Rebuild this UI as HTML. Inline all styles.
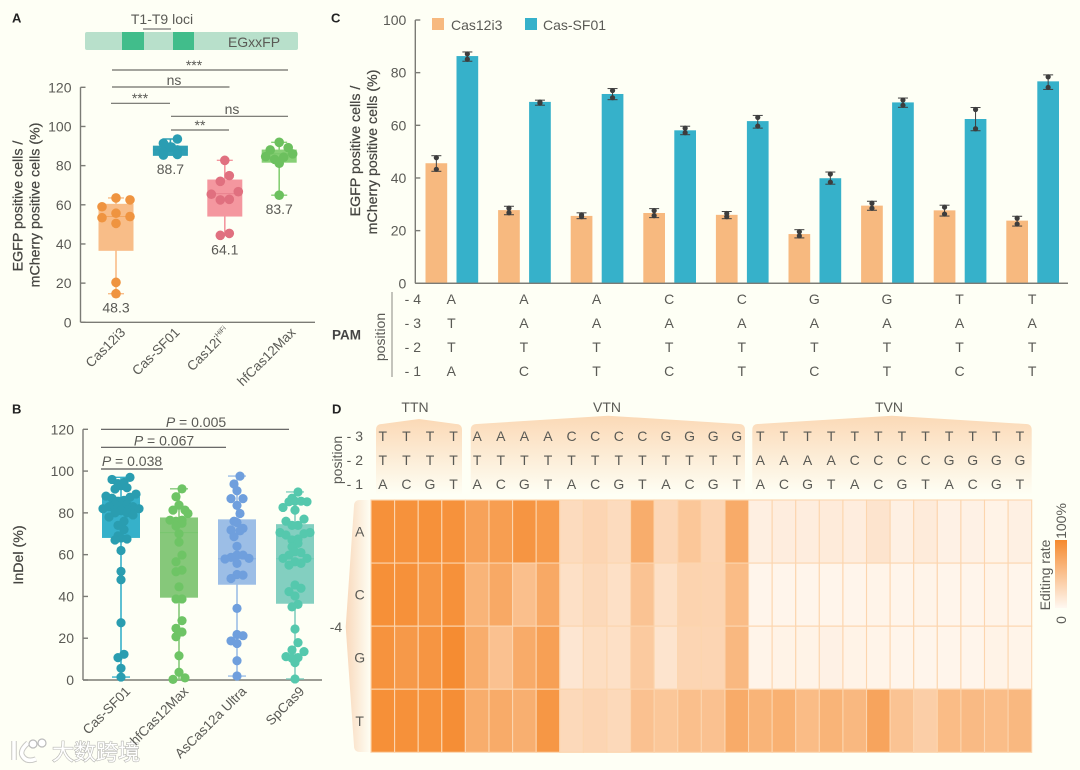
<!DOCTYPE html>
<html lang="en">
<head>
<meta charset="utf-8">
<title>Editing efficiency panels</title>
<style>
html,body{margin:0;padding:0;background:#fefff5;}
svg{display:block;}
text{font-family:"Liberation Sans","Noto Sans CJK SC",sans-serif;fill:#5a5a55;font-size:14px;dominant-baseline:central;}
.title{fill:#454541;stroke:#454541;stroke-width:.25;font-size:14.2px;}
.panel{fill:#222;font-weight:bold;font-size:13px;}
.ax{stroke:#7b7b75;stroke-width:1.4;fill:none;}
.sig{stroke:#6e6e69;stroke-width:1.2;}
</style>
</head>
<body>
<svg id="fig" xmlns="http://www.w3.org/2000/svg" width="1080" height="770" viewBox="0 0 1080 770">
<defs>
<linearGradient id="hdrGrad" x1="0" y1="0" x2="0" y2="1"><stop offset="0" stop-color="#fbd9b6"/><stop offset="1" stop-color="#fefff5"/></linearGradient>
<linearGradient id="sideGrad" x1="0" y1="0" x2="1" y2="0"><stop offset="0" stop-color="#f9d9bc"/><stop offset="1" stop-color="#fefff5"/></linearGradient>
<linearGradient id="barGrad" x1="0" y1="0" x2="0" y2="1"><stop offset="0" stop-color="#f58a2e"/><stop offset="1" stop-color="#fff8f1"/></linearGradient>
</defs>
<rect width="1080" height="770" fill="#fefff5"/>

<text class="panel" x="12" y="18">A</text>
<text class="panel" x="12" y="409">B</text>
<text class="panel" x="331" y="18">C</text>
<text class="panel" x="332" y="409">D</text>

<g>
  <rect x="85" y="32" width="213" height="18" rx="2" fill="#b8e0cb"/>
  <rect x="122" y="32" width="22" height="18" fill="#41bd8b"/>
  <rect x="173" y="32" width="21" height="18" fill="#41bd8b"/>
  <line x1="143" y1="29" x2="171" y2="29" stroke="#555" stroke-width="1"/>
  <text x="162" y="19" text-anchor="middle">T1-T9 loci</text>
  <text x="254" y="42" text-anchor="middle">EGxxFP</text>
</g>

<g>
  <line class="sig" x1="112" y1="70" x2="288" y2="70"/>
  <text x="194" y="65" text-anchor="middle">***</text>
  <line class="sig" x1="112" y1="87" x2="229.5" y2="87"/>
  <text x="174" y="80" text-anchor="middle">ns</text>
  <line class="sig" x1="111" y1="103.3" x2="170" y2="103.3"/>
  <text x="140" y="98" text-anchor="middle">***</text>
  <line class="sig" x1="171" y1="116.3" x2="288" y2="116.3"/>
  <text x="232" y="109" text-anchor="middle">ns</text>
  <line class="sig" x1="171" y1="130" x2="229" y2="130"/>
  <text x="200" y="125" text-anchor="middle">**</text>
</g>
<text class="title" transform="translate(18.5,206) rotate(-90)" text-anchor="middle">EGFP positive cells /</text>
<text class="title" transform="translate(35.5,205) rotate(-90)" text-anchor="middle">mCherry positive cells (%)</text>

<g>
  <line class="sig" x1="101" y1="429.3" x2="289" y2="429.3" style="stroke:#555"/>
  <text x="196" y="422" text-anchor="middle"><tspan font-style="italic">P</tspan> = 0.005</text>
  <line class="sig" x1="101" y1="447.3" x2="226" y2="447.3" style="stroke:#555"/>
  <text x="164" y="440.5" text-anchor="middle"><tspan font-style="italic">P</tspan> = 0.067</text>
  <line class="sig" x1="101" y1="469" x2="163" y2="469" style="stroke:#555"/>
  <text x="132" y="461" text-anchor="middle"><tspan font-style="italic">P</tspan> = 0.038</text>
</g>
<text class="title" transform="translate(19,555) rotate(-90)" text-anchor="middle">InDel (%)</text>

<text class="title" transform="translate(356,151) rotate(-90)" text-anchor="middle">EGFP positive cells /</text>
<text class="title" transform="translate(373,152) rotate(-90)" text-anchor="middle">mCherry positive cells (%)</text>

<g>
  <rect x="432" y="18" width="12" height="12" fill="#f7b97f"/>
  <text x="451" y="25">Cas12i3</text>
  <rect x="525" y="18" width="12" height="12" fill="#36b1ca"/>
  <text x="543" y="25">Cas-SF01</text>
</g>

<g>
  <line x1="392" y1="292" x2="392" y2="377" stroke="#8a8a84" stroke-width="1"/>
  <text x="332" y="335" style="font-weight:bold;font-size:13.5px;fill:#444">PAM</text>
  <text transform="translate(380,337) rotate(-90)" text-anchor="middle">position</text>
</g>

<g>
  <path d="M376,495 L376,430 Q376,424 382,424 L419,419 L456,424 Q462,424 462,430 L462,495 Z" fill="url(#hdrGrad)"/>
  <path d="M470.7,495 L470.7,430 Q470.7,424 477,424 L608,415.7 L739,424 Q745,424 745,430 L745,495 Z" fill="url(#hdrGrad)"/>
  <path d="M752.3,495 L752.3,430 Q752.3,424 758,424 L892,415.7 L1026,424 Q1031.7,424 1031.7,430 L1031.7,495 Z" fill="url(#hdrGrad)"/>
  <path d="M371,500 L360,500 Q354,500 354,506 L345.7,627 L354,746 Q354,752 360,752 L371,752 Z" fill="url(#sideGrad)"/>
  <text x="415" y="407" text-anchor="middle">TTN</text>
  <text x="607" y="407" text-anchor="middle">VTN</text>
  <text x="889" y="407" text-anchor="middle">TVN</text>
  <text transform="translate(337,460) rotate(-90)" text-anchor="middle">position</text>
  <text x="336" y="627" text-anchor="middle">-4</text>
</g>

<g>
  <rect x="1055" y="540" width="12" height="68" fill="url(#barGrad)"/>
  <text transform="translate(1061,521) rotate(-90)" text-anchor="middle">100%</text>
  <text transform="translate(1061,620) rotate(-90)" text-anchor="middle">0</text>
  <text transform="translate(1045,575) rotate(-90)" text-anchor="middle">Editing rate</text>
</g>

<g>
  <path d="M14,741 L14,760 M28,743 Q20,750 22,755 Q26,763 36,759" fill="none" stroke="#c8c8c4" stroke-width="5.5"/>
  <path d="M14,741 L14,760 M28,743 Q20,750 22,755 Q26,763 36,759" fill="none" stroke="#fff" stroke-width="3.5"/>
  <circle cx="33" cy="744" r="4" fill="#fff" stroke="#bbb" stroke-width="1.2"/>
  <circle cx="42" cy="743" r="4" fill="#fff" stroke="#bbb" stroke-width="1.2"/>
  <text x="52" y="751" style="font-size:22px;font-family:'Noto Sans CJK SC',sans-serif;fill:#fff;stroke:#b8b8b4;stroke-width:1.2;paint-order:stroke">大数跨境</text>
</g>

<g id="plots"></g>
</svg>

<script>
// ---------- Panel A data ----------
const aCategories = ['Cas12i3', 'Cas-SF01', 'Cas12i', 'hfCas12Max'];
const aTicks = [0, 20, 40, 60, 80, 100, 120];
const aMeanLabels = ['48.3', '88.7', '64.1', '83.7'];
const aQ1 = [36.5, 85, 54, 81.5];
const aMedian = [54, 88, 65.7, 86];
const aQ3 = [60.5, 90.2, 72.9, 88.2];
const aCas12i3 = [63.5, 62.5, 59, 55.7, 54, 53.4, 50.5, 20.4, 14.6];
const aCasSF01 = [93.6, 91.4, 89.5, 89.5, 88, 87, 85.7, 85.4];
const aCas12iHiFi = [82.7, 74.9, 72, 66.7, 65.4, 62.8, 62.5, 45.4, 44.4];
const aHfCas12Max = [91.9, 89.2, 88, 86, 84.6, 84.3, 83.2, 81.2, 64.9];

// ---------- Panel B data ----------
const bCategories = ['Cas-SF01', 'hfCas12Max', 'AsCas12a Ultra', 'SpCas9'];
const bTicks = [0, 20, 40, 60, 80, 100, 120];
const bQ1 = [68, 39.4, 45.6, 36.5];
const bMedian = [81.3, 70.5, 58, 58];
const bQ3 = [87.7, 77.8, 76.9, 74.6];
const bCasSF01 = [97, 96, 94.6, 94, 93, 92, 91.4, 89, 88, 87.5, 87, 86, 85.5, 85, 84, 84, 83, 83, 82, 82, 81.5, 81.5, 81, 80, 80, 79, 78, 76, 74, 72, 69, 68, 67.5, 67, 62, 52, 48, 27.4, 12.3, 10.7, 5.6, 1.4];
const bHfCas12Max = [91.5, 87.7, 83.7, 81.3, 81.3, 79.7, 76.5, 76.5, 76, 75, 73.7, 70, 66, 59.8, 56.6, 52.6, 51.8, 44.6, 38.8, 38.8, 28.4, 24.7, 23, 20.7, 11.6, 3.7, 1, 0.3];
const bAsCas12aUltra = [97.6, 93.8, 90.6, 86.8, 86.8, 83.6, 79.7, 76, 75.4, 72.6, 71.8, 71.4, 68.6, 64, 59.8, 59.8, 58.7, 58.2, 57.9, 55.8, 50.5, 50.2, 48.6, 34.3, 21.8, 21.2, 18.7, 17.5, 9.2, 1.9];
const bSpCas9 = [90, 87, 85.6, 85.6, 85.3, 85.3, 82.6, 81.3, 77, 76, 74, 74, 70.6, 70.6, 70, 69.4, 67.5, 67, 65.4, 63.8, 61.4, 61, 59.8, 58.2, 58.2, 56.6, 55.8, 55, 45.5, 43.9, 42.3, 40.2, 36.2, 35, 24.4, 17.9, 14.4, 13.6, 11.2, 10.7, 10.4, 8.3, 0.5];

// ---------- Panel C data ----------
const cTicks = [0, 20, 40, 60, 80, 100];
const cCas12i3 = [45.6, 27.8, 25.6, 26.7, 26, 18.7, 29.5, 27.7, 23.8];
const cCas12i3Hi = [47.7, 28.5, 26, 27.6, 26.5, 19.6, 30.4, 28.9, 24.7];
const cCas12i3Lo = [43.3, 26.8, 25.3, 25.7, 25.3, 18, 28.5, 26.3, 22.5];
const cCasSF01 = [86.3, 68.9, 71.9, 58.1, 61.6, 39.9, 68.7, 62.4, 76.7];
const cCasSF01Hi = [87.1, 68.8, 73.2, 58.9, 63, 41.5, 69.6, 66, 78.4];
const cCasSF01Lo = [85.1, 68.4, 70.5, 57.2, 59.7, 38.4, 67.6, 58.7, 74.4];
const pamRowLabels = ['- 4', '- 3', '- 2', '- 1'];
const pamRows = [
  ['A', 'A', 'A', 'C', 'C', 'G', 'G', 'T', 'T'],
  ['T', 'A', 'A', 'A', 'A', 'A', 'A', 'A', 'A'],
  ['T', 'T', 'T', 'T', 'T', 'T', 'T', 'T', 'T'],
  ['A', 'C', 'T', 'C', 'T', 'C', 'T', 'C', 'T']
];

// ---------- Panel D data ----------
const dRowLabels = ['A', 'C', 'G', 'T'];
const dHeadLabels = ['- 3', '- 2', '- 1'];
const dHead3 = 'TTTTAAAACCCCGGGGTTTTTTTTTTTT'.split('');
const dHead2 = 'TTTTTTTTTTTTTTTTAAAACCCCGGGG'.split('');
const dHead1 = 'ACGTACGTACGTACGTACGTACGTACGT'.split('');
const dRowA = [94, 93, 94, 93, 78, 82, 90, 85, 26, 32, 26, 68, 30, 45, 32, 70, 8, 10, 10, 12, 10, 18, 7, 12, 6, 6, 5, 7];
const dRowC = [95, 94, 88, 94, 62, 72, 52, 72, 22, 28, 22, 48, 22, 34, 33, 55, 3, 3, 3, 3, 3, 4, 3, 4, 3, 3, 4, 3];
const dRowG = [92, 86, 90, 98, 68, 50, 70, 80, 16, 24, 22, 42, 18, 32, 32, 58, 4, 5, 5, 6, 5, 4, 3, 3, 3, 3, 5, 4];
const dRowT = [95, 94, 93, 96, 68, 70, 66, 88, 28, 32, 28, 50, 45, 52, 50, 70, 62, 65, 55, 62, 58, 76, 48, 38, 55, 56, 54, 58];

const NS = 'http://www.w3.org/2000/svg';
const root = document.getElementById('plots');
function mk(tag, attrs, parent, txt) {
  const n = document.createElementNS(NS, tag);
  for (const k in attrs) n.setAttribute(k, attrs[k]);
  if (txt !== undefined) n.textContent = txt;
  (parent || root).appendChild(n);
  return n;
}
function linear(d0, d1, r0, r1) { return v => r0 + (v - d0) * (r1 - r0) / (d1 - d0); }

// Banded beeswarm: values close in y form a band, laid out symmetrically around the category centre.
function swarm(values, yS, step, bandH, maxOff) {
  const off = new Array(values.length).fill(0);
  const order = values.map((v, i) => i).sort((a, b) => values[b] - values[a]);
  let band = [];
  function flush() {
    const n = band.length;
    const slots = [];
    if (n % 2) {
      slots.push(0);
      for (let k = 1; k <= (n - 1) / 2; k++) slots.push(k * step, -k * step);
    } else {
      for (let k = n / 2; k >= 1; k--) slots.push((k - 0.5) * step, -(k - 0.5) * step);
    }
    band.forEach((idx, j) => {
      let o = slots[j];
      if (Math.abs(o) > maxOff) o = Math.sign(o) * (Math.abs(o) % maxOff);
      off[idx] = o;
    });
    band = [];
  }
  order.forEach(idx => {
    if (band.length && Math.abs(yS(values[idx]) - yS(values[band[0]])) > bandH) flush();
    band.push(idx);
  });
  flush();
  return off;
}

function drawAxis(o) {
  const g = mk('g', {});
  
  
  const yl = mk('line', { x1: o.x0, y1: o.yS(o.ticks[o.ticks.length - 1]), x2: o.x0, y2: o.yS(0), class: 'ax' }, g);
  
  
  const xl = mk('line', { x1: o.x0, y1: o.yS(0), x2: o.x1, y2: o.yS(0), class: 'ax' }, g);
  
  
  o.ticks.forEach(t => {
    const tk = mk('line', { x1: o.x0, y1: o.yS(t), x2: o.x0 + 5, y2: o.yS(t), class: 'ax' }, g);
    
    
    const lb = mk('text', { x: o.x0 - 9, y: o.yS(t), 'text-anchor': 'end' }, g, t);
    
    
  });
}

function drawBoxGroup(o) {
  const g = mk('g', {});
  
  
  const lo = Math.min.apply(null, o.values), hi = Math.max.apply(null, o.values);
  const w = mk('line', { x1: o.cx, y1: o.yS(hi), x2: o.cx, y2: o.yS(lo), stroke: o.box, 'stroke-width': 1.6 }, g);
  
  
  [lo, hi].forEach(v => {
    const c = mk('line', { x1: o.cx - o.cap, y1: o.yS(v), x2: o.cx + o.cap, y2: o.yS(v), stroke: o.box, 'stroke-width': 1.4 }, g);
    
    
  });
  const r = mk('rect', { x: o.cx - o.hw, y: o.yS(o.q3), width: 2 * o.hw, height: o.yS(o.q1) - o.yS(o.q3), fill: o.box }, g);
  
  
  const m = mk('line', { x1: o.cx - o.hw, y1: o.yS(o.med), x2: o.cx + o.hw, y2: o.yS(o.med), stroke: o.dot, 'stroke-width': 0.9, opacity: .6 }, g);
  
  
  const offs = swarm(o.values, o.yS, o.step, o.bandH, o.maxOff);
  o.values.forEach((v, i) => {
    const c = mk('circle', { cx: o.cx + offs[i], cy: o.yS(v), r: o.r, fill: o.dot }, g);
    
    
  });
  return lo;
}

function tickLabel(txt, x, y, sup) {
  const t = mk('text', { transform: 'translate(' + x + ',' + y + ') rotate(-45)', 'text-anchor': 'end', style: 'font-size:13.5px' }, root, txt);
  
  
  if (sup) {
    const s = mk('tspan', { dy: -4, style: 'font-size:7px' }, t, sup);
    
    
  }
}

// Panel A
const yA = linear(0, 120, 322.3, 87.3);
const xA = i => 116 + i * 54.4;
drawAxis({ name: 'axes-a', x0: 80.5, x1: 315, yS: yA, ticks: aTicks });
const aSeries = [aCas12i3, aCasSF01, aCas12iHiFi, aHfCas12Max];
const aBox = ['#f8bd88', '#2f9fb4', '#f4979f', '#87cf75'];
const aDot = ['#ef9440', '#2a9db2', '#e0707f', '#6cc05e'];
const aStep = [14, 14, 9, 9];
const aBandH = [9, 6, 9, 9];
aSeries.forEach((vals, i) => {
  const lo = drawBoxGroup({ key: 'a-' + i, values: vals, cx: xA(i), yS: yA, box: aBox[i], dot: aDot[i], q1: aQ1[i], med: aMedian[i], q3: aQ3[i], hw: 17.5, cap: 8, r: 4.8, step: aStep[i], bandH: aBandH[i], maxOff: 20 });
  const lab = mk('text', { x: xA(i), y: yA(lo) + 14, 'text-anchor': 'middle' }, root, aMeanLabels[i]);
  
  
  tickLabel(aCategories[i], xA(i) + (i === 3 ? 14 : i === 2 ? 3 : 7), 330, i === 2 ? 'HiFi' : undefined);
});

// Panel B
const yB = linear(0, 120, 680, 429.3);
const xB = i => 121 + i * 58;
drawAxis({ name: 'axes-b', x0: 83, x1: 322, yS: yB, ticks: bTicks });
const bSeries = [bCasSF01, bHfCas12Max, bAsCas12aUltra, bSpCas9];
const bBox = ['#36b1ca', '#86c87a', '#9cbee6', '#83cfc0'];
const bDot = ['#2a9db0', '#6ec465', '#6f9fdd', '#55c8ad'];
bSeries.forEach((vals, i) => {
  drawBoxGroup({ key: 'b-' + i, values: vals, cx: xB(i), yS: yB, box: bBox[i], dot: bDot[i], q1: bQ1[i], med: bMedian[i], q3: bQ3[i], hw: 19, cap: 9, r: 4.6, step: 6, bandH: 8, maxOff: 18 });
  tickLabel(bCategories[i], xB(i) + 7, 689);
});

// Panel C
const yC = linear(0, 100, 283.3, 20);
const xC = i => 451.85 + i * 72.6;
const BW = 21.7;
drawAxis({ name: 'axes-c', x0: 415.3, x1: 1068, yS: yC, ticks: cTicks });
function drawBars(vals, hi, lo, dx, color, key) {
  vals.forEach((v, i) => {
    const cx = xC(i) + dx;
    const b = mk('rect', { x: cx - BW / 2, y: yC(v), width: BW, height: yC(0) - yC(v), fill: color });
    
    
    const e = mk('line', { x1: cx, y1: yC(hi[i]) - 2, x2: cx, y2: yC(lo[i]) + 2, stroke: '#3f3f3f', 'stroke-width': 1 });
    
    
    [hi[i], lo[i]].forEach((p, j) => {
      const c = mk('line', { x1: cx - 5, y1: yC(p) + (j ? 2 : -2), x2: cx + 5, y2: yC(p) + (j ? 2 : -2), stroke: '#3f3f3f', 'stroke-width': 1 });
      
      
      const d = mk('circle', { cx: cx, cy: yC(p), r: 2.6, fill: '#3d3d3d' });
      
      
    });
  });
}
drawBars(cCas12i3, cCas12i3Hi, cCas12i3Lo, -15.5, '#f7b97f', 'cas12i3');
drawBars(cCasSF01, cCasSF01Hi, cCasSF01Lo, 15.5, '#36b1ca', 'cas-sf01');
const xAxC = mk('line', { x1: 415.3, y1: yC(0), x2: 1068, y2: yC(0), class: 'ax' });


pamRows.forEach((row, r) => {
  const y = 299 + r * 24;
  const rl = mk('text', { x: 421, y: y, 'text-anchor': 'end' }, root, pamRowLabels[r]);
  
  
  row.forEach((ch, i) => {
    const t = mk('text', { x: xC(i) - 0.5, y: y, 'text-anchor': 'middle' }, root, ch);
    
    
  });
});

// Panel D
const xD0 = 371, xD1 = 1031.7, yD0 = 500, yD1 = 752.3;
const cw = (xD1 - xD0) / dRowA.length, ch = (yD1 - yD0) / dRowLabels.length;
const colD = i => xD0 + i * cw;
const rowD = r => yD0 + r * ch;
function heatColor(v) {
  const t = Math.max(0, Math.min(1, v / 100));
  const c0 = [255, 248, 241], c1 = [245, 138, 46];
  return 'rgb(' + c0.map((c, k) => Math.round(c + (c1[k] - c) * t)).join(',') + ')';
}
[dRowA, dRowC, dRowG, dRowT].forEach((row, r) => {
  row.forEach((v, i) => {
    const cell = mk('rect', { x: colD(i), y: rowD(r), width: cw, height: ch, fill: heatColor(v), stroke: '#fcd5ae', 'stroke-width': 1.1 });
    
    
  });
  const lb = mk('text', { x: 359.7, y: rowD(r) + ch / 2, 'text-anchor': 'middle' }, root, dRowLabels[r]);
  
  
});
[dHead3, dHead2, dHead1].forEach((row, r) => {
  const y = 436 + r * 24;
  const rl = mk('text', { x: 363, y: y, 'text-anchor': 'end' }, root, dHeadLabels[r]);
  
  
  row.forEach((c, i) => {
    const t = mk('text', { x: colD(i) + cw / 2, y: y, 'text-anchor': 'middle' }, root, c);
    
    
  });
});
</script>
</body>
</html>
